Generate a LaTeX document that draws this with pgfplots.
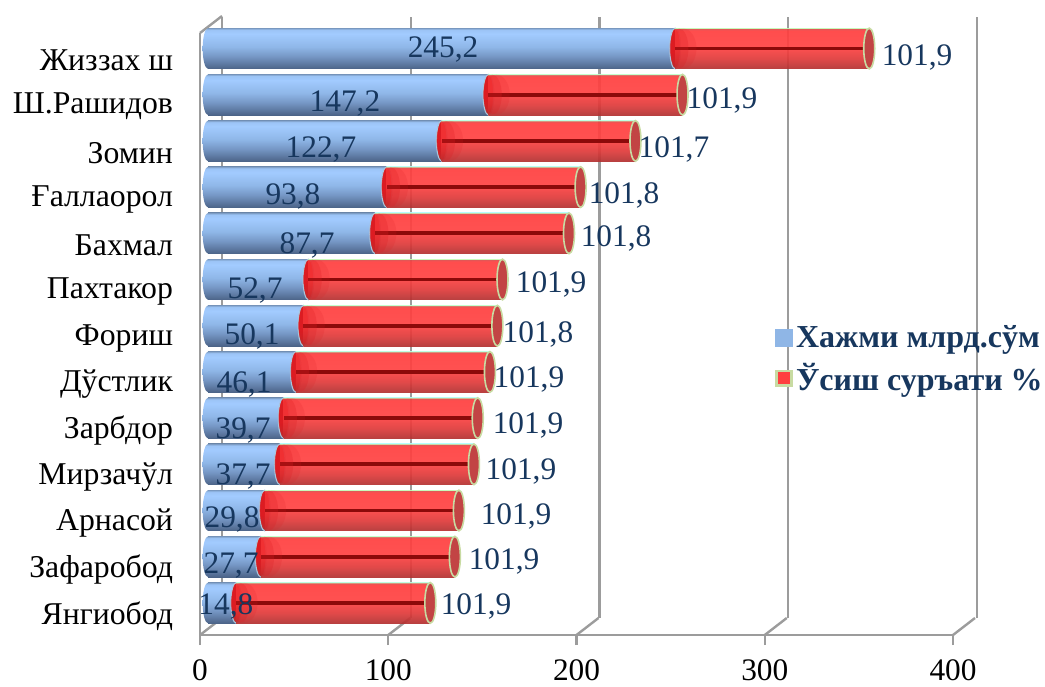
\documentclass[border=0pt]{standalone}
\usepackage{fontspec}
\setmainfont{Liberation Serif}
\usepackage{pgfplots}
\usepackage{pgfplotstable}
\pgfplotsset{compat=1.18}
\definecolor{gridgray}{HTML}{9C9C9C}
\definecolor{txtblue}{HTML}{17375E}
\definecolor{capred}{HTML}{C24444}
\definecolor{capedge}{HTML}{C8DBA2}
\definecolor{midblue}{HTML}{8FB6E6}
\definecolor{darkline}{HTML}{8C0A0A}
\definecolor{startred}{HTML}{DC1C22}
\definecolor{startedge}{HTML}{A9C6DC}
\definecolor{legred}{HTML}{FF4040}
\definecolor{ba}{HTML}{7FA0C8}
\definecolor{bb}{HTML}{4C6488}
\definecolor{bc}{HTML}{7596C4}
\definecolor{bd}{HTML}{8FB7E8}
\definecolor{be}{HTML}{A2CBFF}
\definecolor{bf}{HTML}{9CC4F6}
\definecolor{bg}{HTML}{7C9CC4}
\definecolor{ra}{HTML}{B23030}
\definecolor{rb}{HTML}{E03A3A}
\definecolor{rc}{HTML}{FF4242}
\definecolor{rd}{HTML}{FF3E3E}
\definecolor{re}{HTML}{E04848}
\pgfdeclareverticalshading{bluebar}{100bp}{color(0bp)=(ba);color(25bp)=(bb);color(40bp)=(bc);color(52bp)=(bd);color(68bp)=(be);color(73bp)=(bf);color(75bp)=(bg);color(100bp)=(bg)}
\pgfdeclareverticalshading{redbar}{100bp}{color(0bp)=(capedge);color(25bp)=(ra);color(38bp)=(rb);color(52bp)=(rc);color(72bp)=(rd);color(74bp)=(re);color(75bp)=(capedge);color(100bp)=(capedge)}
\pgfdeclareverticalshading{startbar}{100bp}{color(0bp)=(startred);color(25bp)=(ra);color(45bp)=(startred);color(75bp)=(startred);color(100bp)=(startred)}
% rounded ends of the cylinders, shaded like the bars
\pgfdeclareplotmark{bluecap}{%
  \pgfpathellipse{\pgfpointorigin}{\pgfqpoint{4pt}{0pt}}{\pgfqpoint{0pt}{15.25pt}}%
  \pgfshadepath{bluebar}{0}\pgfusepath{discard}}
\pgfdeclareplotmark{redcap}{%
  \pgfpathellipse{\pgfpointorigin}{\pgfqpoint{4pt}{0pt}}{\pgfqpoint{0pt}{15.25pt}}%
  \pgfshadepath{startbar}{0}\pgfusepath{stroke}}
% soft dark zone where the red part starts
\pgfdeclareplotmark{redfadea}{%
  \pgfpathellipse{\pgfqpoint{3pt}{0pt}}{\pgfqpoint{7pt}{0pt}}{\pgfqpoint{0pt}{15pt}}%
  \pgfusepath{fill}}
\pgfdeclareplotmark{redfadeb}{%
  \pgfpathellipse{\pgfqpoint{6pt}{0pt}}{\pgfqpoint{10pt}{0pt}}{\pgfqpoint{0pt}{15pt}}%
  \pgfusepath{fill}}
% y vol growth cum lx ly lab rx ry rlab
\pgfplotstableread{
y  vol   growth cum   lx    ly    lab   rx    ry    rlab
12 245.2 101.9  347.1 123.4 12.04 245,2 372.2 11.87 101,9
11 147.2 101.9  249.1 71.9  10.87 147,2 269.8 10.94 101,9
10 122.7 101.7  224.4 59.3  9.89  122,7 244.6 9.89  101,7
9  93.8  101.8  195.6 44.6  8.87  93,8  218.4 8.89  101,8
8  87.7  101.8  189.5 52.0  7.81  87,7  214.2 7.96  101,8
7  52.7  101.9  154.6 24.7  6.83  52,7  180.1 6.96  101,9
6  50.1  101.8  151.9 23.1  5.83  50,1  173.2 5.89  101,8
5  46.1  101.9  148.0 18.9  4.80  46,1  168.5 4.91  101,9
4  39.7  101.9  141.6 18.4  3.80  39,7  168.0 3.91  101,9
3  37.7  101.9  139.6 18.4  2.80  37,7  164.3 2.91  101,9
2  29.8  101.9  131.7 12.6  1.87  29,8  161.7 1.94  101,9
1  27.7  101.9  129.6 12.1  0.89  27,7  155.4 0.96  101,9
0  14.8  101.9  116.7 9.4   0.00  14,8  140.7 0.00  101,9
}\rows
\pgfplotstableread{
y zero
12 0
11 0
10 0
9 0
8 0
7 0
6 0
5 0
4 0
3 0
2 0
1 0
0 0
}\zeros
\pgfplotsset{
  barax/.style={
    at={(156pt,45pt)}, anchor=south west, scale only axis,
    width=571.5pt, height=450.45pt,
    xmin=0, xmax=400, ymin=-0.5, ymax=12.5,
    hide axis, clip=false,
  },
  caps/.style={only marks, mark=*, mark size=15.25pt,
    mark options={xscale=0.27, #1}},
  vallabel/.style={forget plot, draw=none, mark=none, point meta=explicit symbolic,
    nodes near coords, nodes near coords style={anchor=center,inner sep=0pt,text=txtblue,
      yshift=-2.5pt, font=\fontsize{23.5}{25}\selectfont}},
}
\begin{document}
\begin{tikzpicture}
\useasboundingbox (0,0) rectangle (783.75pt,514.5pt);
% back wall
\begin{axis}[
  at={(166.5pt,51pt)}, anchor=south west, scale only axis,
  width=566.25pt, height=450.75pt,
  xmin=0, xmax=400, ymin=0, ymax=1,
  xtick={0,100,200,300,400}, ytick=\empty, xticklabels={},
  xmajorgrids, grid style={gridgray,line width=1.8pt},
  axis line style={draw=none}, tick style={draw=none},
]
\end{axis}
% front frame with tick labels
\begin{axis}[
  at={(150pt,38.25pt)}, anchor=south west, scale only axis,
  width=564.75pt, height=451.5pt,
  xmin=0, xmax=400, ymin=-0.5, ymax=12.5,
  clip=false,
  axis x line*=bottom, axis y line*=left,
  axis line style={gridgray,line width=1.8pt,-},
  xtick={0,100,200,300,400},
  ytick={0,1,...,12},
  yticklabels={Янгиобод,Зафаробод,Арнасой\ ,Мирзачўл,Зарбдор,Дўстлик,Фориш,Пахтакор,Бахмал,Ғаллаорол,Зомин,Ш.Рашидов,Жиззах ш},
  extra y ticks={-0.5,0.5,1.5,2.5,3.5,4.5,5.5,6.5,7.5,8.5,9.5,10.5,11.5,12.5},
  extra y tick labels={},
  extra y tick style={y tick style={gridgray,line width=1.5pt},major tick length=10.5pt},
  y tick style={draw=none},
  x tick style={gridgray,line width=1.8pt},
  major tick length=7.5pt, tick align=outside,
  /pgf/number format/assume math mode=true,
  yticklabel style={font=\fontsize{23.8}{25}\selectfont,anchor=east,xshift=-9.25pt,yshift=-3pt},
  xticklabel style={font=\fontsize{23.5}{25}\selectfont,inner ysep=0pt,yshift=-11pt},
]
\pgfplotsinvokeforeach{0,100,200,300,400}{
  \draw[gridgray,line width=1.8pt] (axis cs:#1,-0.5) -- ++(16.5pt,12.75pt);
}
\draw[gridgray,line width=1.8pt] (axis cs:0,12.5) -- ++(16.5pt,12.75pt);
\end{axis}
% blue cylinders, one plot per row so that each has its own gradient
\begin{axis}[barax]
\addplot[only marks, mark=bluecap] table[x=zero,y=y] {\zeros};
\pgfplotsinvokeforeach{0,...,12}{
  \addplot[xbar, bar shift=0pt, bar width=30.5pt, shading=bluebar, draw=none,
    restrict y to domain=#1:#1] table[x=vol,y=y] {\rows};
}
\addplot[only marks, mark=redcap, mark options={draw=startedge,line width=0.8pt}] table[x=vol,y=y] {\rows};
\end{axis}
% red cylinders, stacked on an unseen first part
\pgfplotsinvokeforeach{0,...,12}{
\begin{axis}[barax, xbar stacked, bar width=30.5pt, bar shift=0pt, restrict y to domain=#1:#1]
\addplot[draw=none, fill=none] table[x=vol,y=y] {\rows};
\addplot[shading=redbar, draw=none, fill opacity=0.92] table[x=growth,y=y] {\rows};
\end{axis}
}
% caps, core line, value labels, legend
\begin{axis}[barax,
  legend style={at={(0.744,0.444)}, anchor=west, draw=none, fill=none,
    font=\fontsize{24}{26}\selectfont\bfseries, text=txtblue,
    row sep=8.5pt, inner sep=0pt, nodes={inner xsep=2.4pt,inner ysep=1pt}},
  legend cell align=left,
]
\addlegendimage{legend image code/.code={\fill[midblue] (0pt,-6.4pt) rectangle (12.8pt,6.4pt);}}
\addlegendentry{Хажми млрд.сўм}
\addlegendimage{legend image code/.code={\fill[legred,draw=capedge,line width=2pt] (1pt,-5.4pt) rectangle (11.8pt,5.4pt);}}
\addlegendentry{Ўсиш суръати \%}
\addplot[forget plot, only marks, mark=redfadeb, mark options={fill=startred,draw=none,fill opacity=0.15}] table[x=vol,y=y] {\rows};
\addplot[forget plot, only marks, mark=redfadea, mark options={fill=startred,draw=none,fill opacity=0.25}] table[x=vol,y=y] {\rows};
\addplot[forget plot, caps={fill=capred,draw=capedge,line width=1.2pt}] table[x=cum,y=y] {\rows};
\addplot[forget plot, draw=none, no markers,
  error bars/.cd, x dir=minus, x explicit,
  error mark=none, error bar style={darkline,line width=2.8pt}]
  table[x=cum,y=y,x error=growth] {\rows};
\addplot[vallabel] table[x=lx,y=ly,meta=lab] {\rows};
\addplot[vallabel] table[x=rx,y=ry,meta=rlab] {\rows};
\end{axis}
\end{tikzpicture}
\end{document}
